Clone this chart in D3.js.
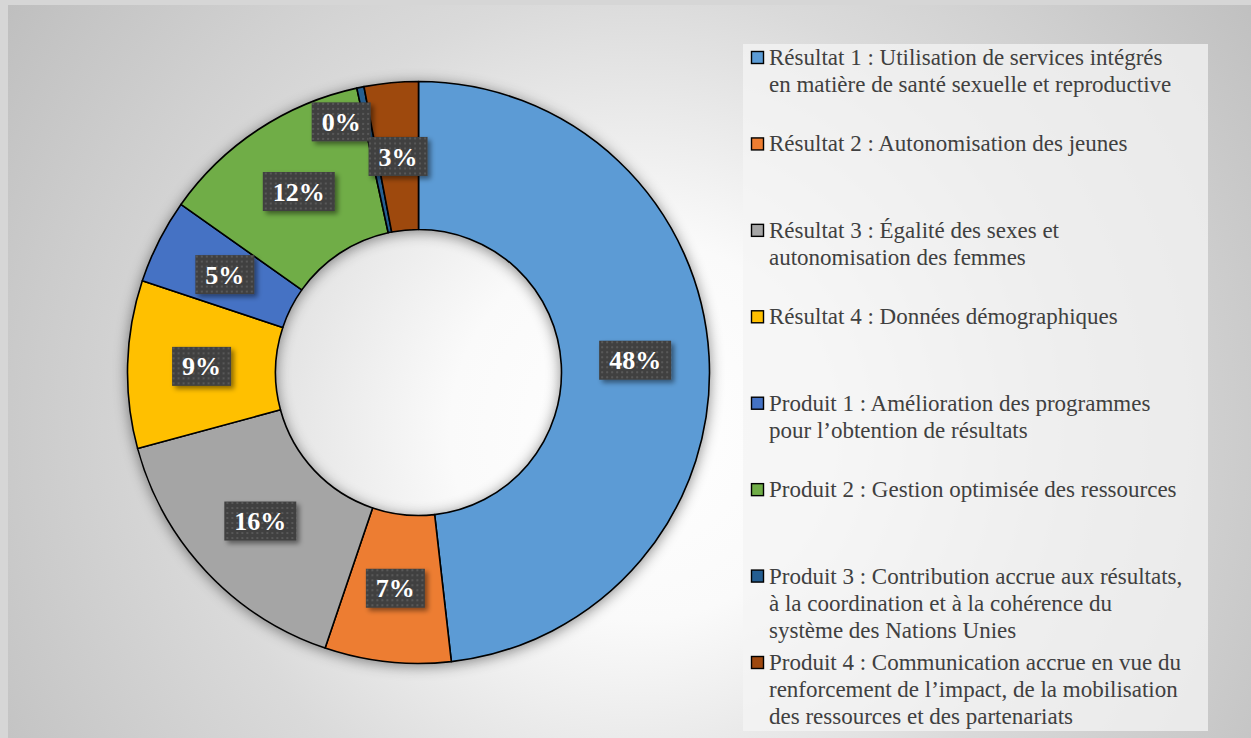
<!DOCTYPE html>
<html>
<head>
<meta charset="utf-8">
<script src="https://cdn.jsdelivr.net/npm/d3@7"></script>
<style>
  html, body { margin: 0; padding: 0; background: #d6d6d6; }
  svg { display: block; }
  .serif { font-family: "Liberation Serif", "Times New Roman", "DejaVu Serif", serif; }
</style>
</head>
<body>
<svg id="chart" width="1251" height="738"></svg>
<script>
// ---- data ----
const categories = [
  "Résultat 1 : Utilisation de services intégrés\nen matière de santé sexuelle et reproductive",
  "Résultat 2 : Autonomisation des jeunes",
  "Résultat 3 : Égalité des sexes et\nautonomisation des femmes",
  "Résultat 4 : Données démographiques",
  "Produit 1 : Amélioration des programmes\npour l’obtention de résultats",
  "Produit 2 : Gestion optimisée des ressources",
  "Produit 3 : Contribution accrue aux résultats,\nà la coordination et à la cohérence du\nsystème des Nations Unies",
  "Produit 4 : Communication accrue en vue du\nrenforcement de l’impact, de la mobilisation\ndes ressources et des partenariats"
];
const values = [48.2, 7.0, 15.6, 9.3, 4.7, 11.8, 0.4, 3.0];
const colors = ["#5B9BD5", "#ED7D31", "#A5A5A5", "#FFC000", "#4472C4", "#70AD47", "#255E91", "#9E480E"];

// ---- layout ----
const W = 1251, H = 738;
const svg = d3.select("#chart");
const defs = svg.append("defs");

const bg = defs.append("radialGradient").attr("id", "bg")
  .attr("gradientUnits", "userSpaceOnUse")
  .attr("cx", 640).attr("cy", 430).attr("r", 760);
bg.append("stop").attr("offset", "0").attr("stop-color", "#ffffff");
bg.append("stop").attr("offset", "0.25").attr("stop-color", "#fafafa");
bg.append("stop").attr("offset", "0.58").attr("stop-color", "#dadada");
bg.append("stop").attr("offset", "1").attr("stop-color", "#bfbfbf");

const sh = defs.append("filter").attr("id", "ringShadow")
  .attr("x", "-20%").attr("y", "-20%").attr("width", "140%").attr("height", "140%");
sh.append("feDropShadow").attr("dx", 0).attr("dy", 2).attr("stdDeviation", 7)
  .attr("flood-color", "#000").attr("flood-opacity", 0.45);

const lsh = defs.append("filter").attr("id", "labShadow")
  .attr("x", "-30%").attr("y", "-30%").attr("width", "160%").attr("height", "160%");
lsh.append("feDropShadow").attr("dx", 3).attr("dy", 3).attr("stdDeviation", 2.5)
  .attr("flood-color", "#000").attr("flood-opacity", 0.45);

const pat = defs.append("pattern").attr("id", "dots")
  .attr("patternUnits", "userSpaceOnUse").attr("width", 5).attr("height", 5);
pat.append("rect").attr("width", 5).attr("height", 5).attr("fill", "#404040");
pat.append("rect").attr("x", 1).attr("y", 1).attr("width", 2).attr("height", 2).attr("fill", "#585858");

// background
svg.append("rect").attr("x", 8).attr("y", 5).attr("width", W - 8).attr("height", H - 5)
  .attr("fill", "url(#bg)");

// ---- donut ----
const cx = 418.5, cy = 372.5, R = 291, r = 143;
const pie = d3.pie().sort(null).value(d => d)(values);
const arc = d3.arc().innerRadius(r).outerRadius(R);
const labelArc = d3.arc().innerRadius((r + R) / 2).outerRadius((r + R) / 2);

const g = svg.append("g").attr("transform", `translate(${cx},${cy})`);
g.append("g").attr("filter", "url(#ringShadow)")
  .selectAll("path").data(pie).join("path")
  .attr("d", arc)
  .attr("fill", (d, i) => colors[i])
  .attr("stroke", "#000").attr("stroke-width", 1.6).attr("stroke-linejoin", "round");

// labels
const fmt = v => Math.round(v) + "%";
const labels = g.append("g").selectAll("g").data(pie).join("g")
  .attr("transform", (d, i) => {
    let [x, y] = labelArc.centroid(d);
    if (d.value < 1) { x -= 34; y -= 38; } // moved off the tiny slice (best fit)
    return `translate(${x},${y})`;
  });
labels.each(function (d) {
  const sel = d3.select(this);
  const t = sel.append("text").attr("class", "serif")
    .attr("text-anchor", "middle").attr("dy", "0.35em")
    .attr("font-weight", "bold").attr("font-size", 26)
    .attr("fill", "#fff").text(fmt(d.value));
  const w = t.node().getComputedTextLength() + 20;
  sel.insert("rect", "text")
    .attr("x", -w / 2).attr("y", -19.5).attr("width", w).attr("height", 39)
    .attr("fill", "url(#dots)").attr("filter", "url(#labShadow)");
});

// ---- legend ----
svg.append("rect").attr("x", 743).attr("y", 44).attr("width", 465).attr("height", 687)
  .attr("fill", "#f4f4f4").attr("fill-opacity", 0.75);

const legY = d3.scalePoint().domain(d3.range(categories.length)).range([65, 670]);
const leg = svg.append("g").selectAll("g").data(categories).join("g")
  .attr("transform", (d, i) => `translate(0,${legY(i)})`);
leg.append("rect").attr("x", 751.5).attr("y", -13.5).attr("width", 12).attr("height", 12)
  .attr("fill", (d, i) => colors[i]).attr("stroke", "#000").attr("stroke-width", 1.4);
leg.append("text").attr("class", "serif")
  .attr("font-size", 23).attr("fill", "#404040")
  .selectAll("tspan").data(d => d.split("\n")).join("tspan")
  .attr("x", 769).attr("y", (d, j) => j * 27)
  .text(d => d);
</script>
</body>
</html>
